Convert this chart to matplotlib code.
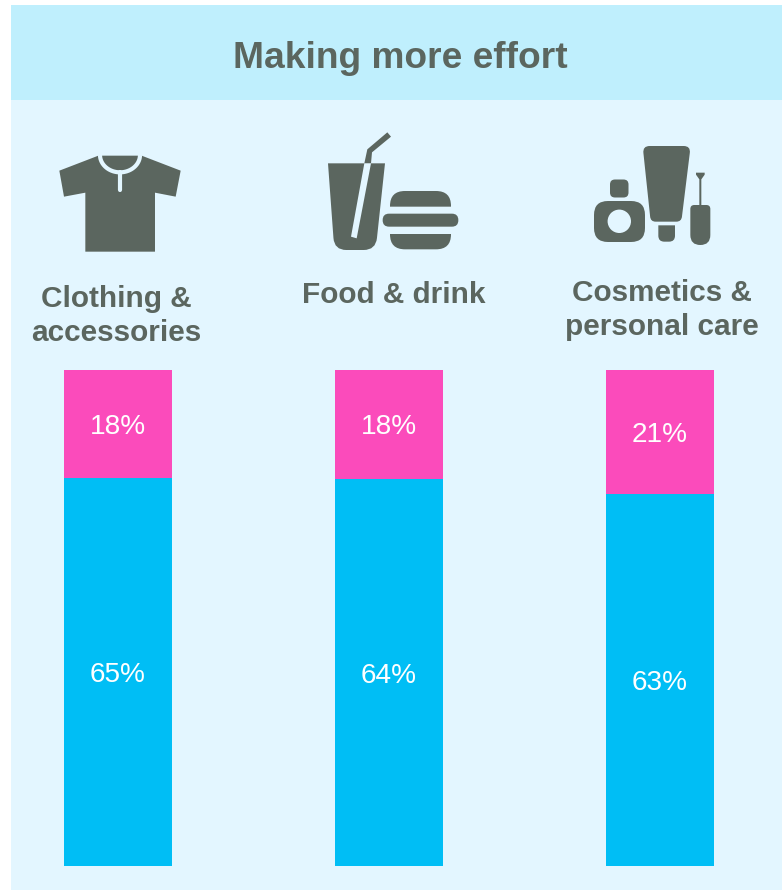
import matplotlib
matplotlib.use('Agg')
import matplotlib.pyplot as plt
import numpy as np
from matplotlib.patches import Rectangle, PathPatch, Circle
from matplotlib.path import Path

W, H = 782, 890

title = 'Making more effort'
categories = ['Clothing &\naccessories', 'Food & drink', 'Cosmetics &\npersonal care']
more_effort = [65, 64, 63]
much_more_effort = [18, 18, 21]

BLUE = '#00BEF5'
PINK = '#FB4BBB'
DARK = '#5B665F'
HEADER = '#BFEFFD'
PANEL = '#E3F6FF'

plt.rcParams['font.family'] = ['Liberation Sans', 'DejaVu Sans']

fig = plt.figure(figsize=(W / 100, H / 100), dpi=100, facecolor='white')

# pixel layer for the panel, the heading and the icons
bg = fig.add_axes([0, 0, 1, 1])
bg.set_xlim(0, W)
bg.set_ylim(H, 0)
bg.axis('off')
bg.add_patch(Rectangle((11, 5), W - 11, H - 5, fc=PANEL, ec='none'))
bg.add_patch(Rectangle((11, 5), W - 11, 95, fc=HEADER, ec='none'))
bg.text(400, 58, title, ha='center', va='center', fontsize=26.7, fontweight='bold', color=DARK)


def rounded(points, radii, color=DARK, zorder=3):
    # closed polygon whose corners are cut with quadratic curves
    pts = np.array(points, dtype=float)
    n = len(pts)
    verts, codes = [], []
    for i in range(n):
        p, prev, nxt = pts[i], pts[i - 1], pts[(i + 1) % n]
        r = radii[i] if np.ndim(radii) else radii
        if r == 0:
            verts.append(p)
            codes.append(Path.LINETO)
            continue
        a = p + (prev - p) / np.linalg.norm(prev - p) * r
        b = p + (nxt - p) / np.linalg.norm(nxt - p) * r
        verts += [a, p, b]
        codes += [Path.LINETO, Path.CURVE3, Path.CURVE3]
    codes[0] = Path.MOVETO
    verts.append(verts[0])
    codes.append(Path.CLOSEPOLY)
    bg.add_patch(PathPatch(Path(verts, codes), fc=color, ec='none', zorder=zorder))


def box(x0, y0, x1, y1, r, color=DARK):
    rounded([(x0, y0), (x1, y0), (x1, y1), (x0, y1)], r, color)


# t-shirt
ox, oy = 30, 120
shirt = np.array([(205, 107), (335, 107), (452, 152), (437, 230), (375, 218), (375, 395),
                  (166, 395), (166, 218), (102, 230), (88, 152)]) / 3 + (ox, oy)
rounded(shirt, 0)
t = np.linspace(0, np.pi, 40)
collar_x = ox + (270 + 60 * np.cos(t)) / 3
collar_y = oy + (105 + 52 * np.sin(t)) / 3
bg.plot(collar_x, collar_y, color=PANEL, lw=3, zorder=4, solid_capstyle='butt')
bg.plot([ox + 90, ox + 90], [oy + 52, oy + 70], color=PANEL, lw=3, zorder=4, solid_capstyle='round')

# drink and burger
ox, oy = 310, 120
cup = np.array([(54, 130), (225, 130), (197, 390), (73, 390)]) / 3 + (ox, oy)
rounded(cup, [0, 0, 12, 12])
slit = np.array([(163, 130), (183, 130), (140, 355), (123, 350)]) / 3 + (ox, oy)
rounded(slit, 0, PANEL, zorder=4)
straw = np.array([(163, 130), (172, 88), (232, 37), (243, 50), (186, 97), (183, 130)]) / 3 + (ox, oy)
rounded(straw, 0)
bun_top = np.array([(240, 260), (240, 213), (423, 213), (423, 260)]) / 3 + (ox, oy)
rounded(bun_top, [0, 15, 15, 0])
patty = np.array([(218, 281), (445, 281), (445, 320), (218, 320)]) / 3 + (ox, oy)
rounded(patty, 6.4)
bun_low = np.array([(240, 342), (423, 342), (423, 388), (240, 388)]) / 3 + (ox, oy)
rounded(bun_low, [0, 0, 15, 15])

# cosmetics
ox, oy = 580, 130
box(ox + 30, oy + 49.5, ox + 48.5, oy + 67.5, 5)
box(ox + 14, oy + 71, ox + 65, oy + 112, 14)
bg.add_patch(Circle((ox + 39.3, oy + 91.3), 11.7, fc=PANEL, ec='none', zorder=4))
tube = np.array([(188, 48), (332, 48), (304, 275), (212, 275)]) / 3 + (ox, oy)
rounded(tube, [7, 7, 5, 5])
tube_cap = np.array([(235, 286), (285, 286), (285, 335), (235, 335)]) / 3 + (ox, oy)
rounded(tube_cap, [0, 0, 6, 6])
brush = np.array([(331, 225), (391, 225), (391, 345), (331, 345)]) / 3 + (ox, oy)
rounded(brush, [4, 4, 10, 10])
stem = np.array([(348, 128), (374, 128), (374, 134), (364, 148), (364, 226), (358, 226), (358, 148), (348, 134)]) / 3 + (ox, oy)
rounded(stem, 0)

# category names
name_pos = [(116, 316), (394, 295), (662, 310)]
for name, (x, y) in zip(categories, name_pos):
    bg.text(x, y, name, ha='center', va='center', fontsize=21.4, fontweight='bold',
            color=DARK, linespacing=1.27)

# stacked bars, each column scaled to its own total
ax = fig.add_axes([0, (H - 866) / H, 1, 496 / H])
ax.patch.set_alpha(0)
ax.axis('off')
ax.set_xlim(-118 / 271, (W - 118) / 271)
ax.set_ylim(0, 1)

xs = np.arange(len(categories))
lower = np.array(more_effort, dtype=float)
upper = np.array(much_more_effort, dtype=float)
totals = lower + upper
ax.bar(xs, lower / totals, width=108 / 271, color=BLUE)
ax.bar(xs, upper / totals, width=108 / 271, bottom=lower / totals, color=PINK)

for i in xs:
    ax.annotate(f'{more_effort[i]}%', (i, lower[i] / totals[i] / 2), xytext=(0, -2.5),
                textcoords='offset points', ha='center', va='center', color='white', fontsize=20.2)
    ax.annotate(f'{much_more_effort[i]}%', (i, lower[i] / totals[i] + upper[i] / totals[i] / 2),
                xytext=(0, -2.2), textcoords='offset points', ha='center', va='center',
                color='white', fontsize=20.2)

fig.savefig('out.png', dpi=100)
